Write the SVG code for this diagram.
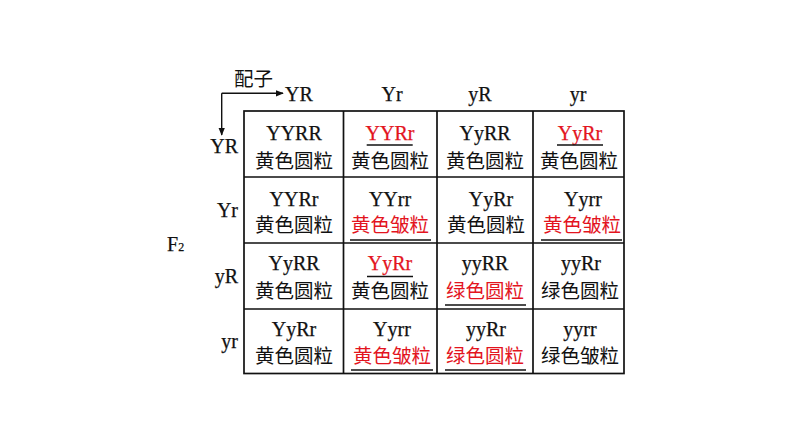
<svg xmlns="http://www.w3.org/2000/svg" width="794" height="447" viewBox="0 0 794 447">
<style>
.lat{font-family:"Liberation Serif","Times New Roman",serif;font-size:20px;fill:#111;stroke:#111;stroke-width:0.25;}
.cn{font-family:"Noto Sans CJK SC","Noto Sans CJK JP",sans-serif;font-size:19.5px;fill:#111;stroke:none;}
.c{text-anchor:middle;}
.e{text-anchor:end;}
.red{fill:#e3141e;}
.lat.red{stroke:#e3141e;}
.grid{stroke:#111;stroke-width:1.7;fill:none;}
.ul{stroke:#111;stroke-width:1.4;}
.arr{stroke:#111;stroke-width:1.4;fill:none;}
</style>
<defs>
<marker id="ah" viewBox="0 0 10 10" refX="9" refY="5" markerWidth="8" markerHeight="8" markerUnits="userSpaceOnUse" orient="auto">
<path d="M0,1 L10,5 L0,9 z" fill="#111"/>
</marker>
</defs>
<rect width="794" height="447" fill="#fff"/>

<g id="connectors">
<path class="arr" d="M221.7,93.3 H283" marker-end="url(#ah)"/>
<path class="arr" d="M221.7,93.3 V135" marker-end="url(#ah)"/>
</g>

<g id="axis-labels">
<text class="cn" x="234" y="86">配子</text>
<text class="lat" x="167" y="251">F<tspan font-size="12">2</tspan></text>
</g>

<g id="col-headers">
<text class="lat" x="285" y="101">YR</text>
<text class="lat c" x="392" y="101">Yr</text>
<text class="lat c" x="480" y="101">yR</text>
<text class="lat c" x="578" y="101">yr</text>
</g>

<g id="row-headers">
<text class="lat e" x="238" y="153">YR</text>
<text class="lat e" x="238" y="217">Yr</text>
<text class="lat e" x="238" y="283">yR</text>
<text class="lat e" x="238" y="348">yr</text>
</g>

<g id="grid">
<rect class="grid" x="244" y="111" width="380" height="262.5" stroke-width="2.1"/>
<path class="grid" d="M343.5,111 V373.5 M437,111 V373.5 M533,111 V373.5 M244,177 H624 M244,243 H624 M244,309 H624"/>
</g>

<g id="row1">
<g id="c11"><text class="lat c" x="294" y="140">YYRR</text><text class="cn c" x="294" y="168">黄色圆粒</text></g>
<g id="c12"><text class="lat c red" x="390" y="140">YYRr</text><line class="ul" x1="366.7" y1="145" x2="412.7" y2="145"/><text class="cn c" x="390" y="168">黄色圆粒</text></g>
<g id="c13"><text class="lat c" x="485" y="140">YyRR</text><text class="cn c" x="485" y="168">黄色圆粒</text></g>
<g id="c14"><text class="lat c red" x="580" y="140">YyRr</text><line class="ul" x1="557" y1="145" x2="603" y2="145"/><text class="cn c" x="579" y="168">黄色圆粒</text></g>
</g>

<g id="row2">
<g id="c21"><text class="lat c" x="294" y="206">YYRr</text><text class="cn c" x="294" y="232">黄色圆粒</text></g>
<g id="c22"><text class="lat c" x="390" y="206">YYrr</text><text class="cn c red" x="390" y="232">黄色皱粒</text><line class="ul" x1="350" y1="240" x2="431" y2="240"/></g>
<g id="c23"><text class="lat c" x="491" y="206">YyRr</text><text class="cn c" x="486" y="232">黄色圆粒</text></g>
<g id="c24"><text class="lat c" x="583" y="206">Yyrr</text><text class="cn c red" x="582" y="232">黄色皱粒</text><line class="ul" x1="541" y1="240" x2="622" y2="240"/></g>
</g>

<g id="row3">
<g id="c31"><text class="lat c" x="294" y="270">YyRR</text><text class="cn c" x="294" y="298">黄色圆粒</text></g>
<g id="c32"><text class="lat c red" x="390" y="270">YyRr</text><line class="ul" x1="367" y1="276.5" x2="413" y2="276.5"/><text class="cn c" x="390" y="298">黄色圆粒</text></g>
<g id="c33"><text class="lat c" x="485" y="270">yyRR</text><text class="cn c red" x="485" y="298">绿色圆粒</text><line class="ul" x1="445" y1="305" x2="526" y2="305"/></g>
<g id="c34"><text class="lat c" x="581" y="270">yyRr</text><text class="cn c" x="580" y="298">绿色圆粒</text></g>
</g>

<g id="row4">
<g id="c41"><text class="lat c" x="294" y="336">YyRr</text><text class="cn c" x="294" y="363">黄色圆粒</text></g>
<g id="c42"><text class="lat c" x="392" y="336">Yyrr</text><text class="cn c red" x="392" y="363">黄色皱粒</text><line class="ul" x1="351" y1="370" x2="433" y2="370"/></g>
<g id="c43"><text class="lat c" x="486" y="336">yyRr</text><text class="cn c red" x="485" y="363">绿色圆粒</text><line class="ul" x1="445" y1="370" x2="526" y2="370"/></g>
<g id="c44"><text class="lat c" x="580" y="336">yyrr</text><text class="cn c" x="580" y="363">绿色皱粒</text></g>
</g>
</svg>
